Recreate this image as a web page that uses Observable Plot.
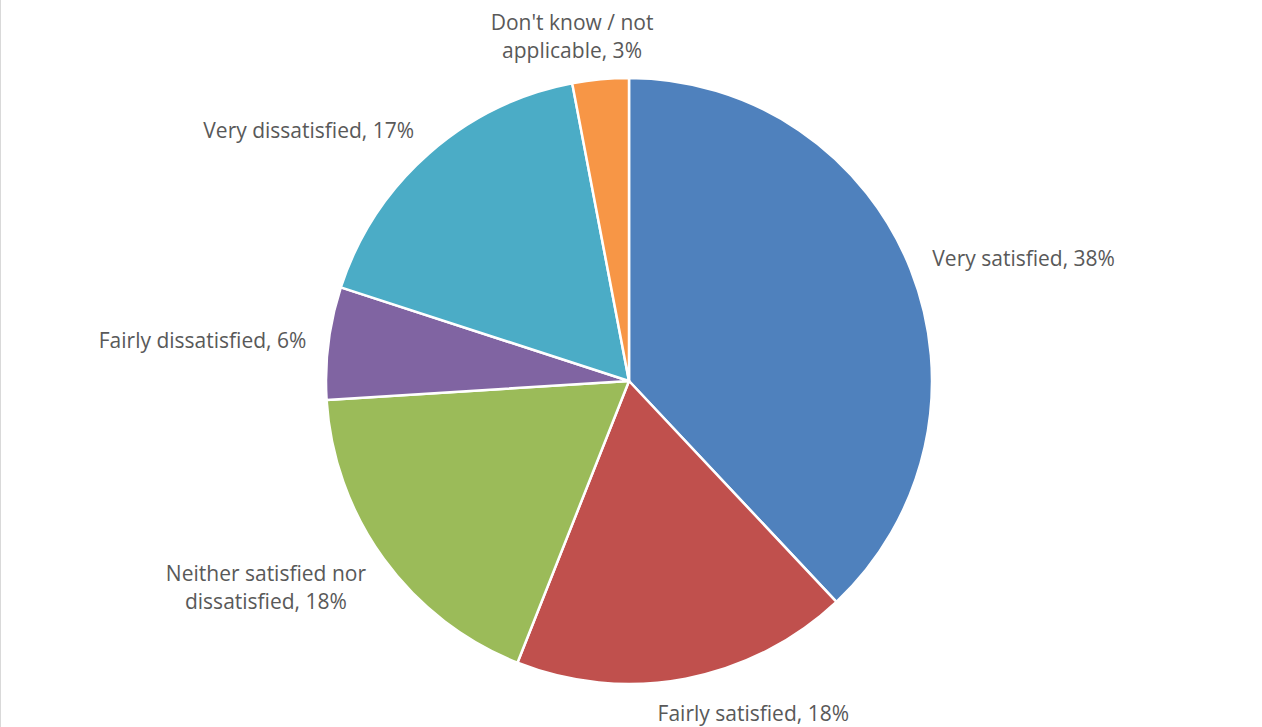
<!DOCTYPE html>
<html>
<head>
<meta charset="utf-8">
<script src="https://cdn.jsdelivr.net/npm/d3@7"></script>
<script src="https://cdn.jsdelivr.net/npm/@observablehq/plot@0.6"></script>
<style>
  html, body { margin: 0; padding: 0; background: #fff; }
  #wrap { position: relative; width: 1262px; height: 727px; }
  #edge { position: absolute; left: 0; top: 0; width: 1px; height: 727px; background: #d9d9d9; }
</style>
</head>
<body>
<div id="wrap"><div id="chart"></div><div id="edge"></div></div>
<script>
// Data (clockwise from 12 o'clock)
const categories = ["Very satisfied", "Fairly satisfied", "Neither satisfied nor dissatisfied", "Fairly dissatisfied", "Very dissatisfied", "Don't know / not applicable"];
const labelTexts = ["Very satisfied, 38%", "Fairly satisfied, 18%", "Neither satisfied nor\ndissatisfied, 18%", "Fairly dissatisfied, 6%", "Very dissatisfied, 17%", "Don't know / not\napplicable, 3%"];
const values = [38, 18, 18, 6, 17, 3];
const colors = ["#4F81BD", "#C0504D", "#9BBB59", "#8064A2", "#4BACC6", "#F79646"];

const W = 1262, H = 727;
const FONT_SIZE = 21;
const FONT = `${FONT_SIZE}px 'Open Sans'`;
const LINE_H = 28;

const total = d3.sum(values);
let acc = 0;
const slices = categories.map((c, i) => {
  const a0 = acc / total * 2 * Math.PI;
  acc += values[i];
  const a1 = acc / total * 2 * Math.PI;
  return {category: c, label: labelTexts[i], value: values[i], a0, a1, mid: (a0 + a1) / 2};
});

// measure label boxes so that labels sit just outside the pie edge
const ctx = document.createElement("canvas").getContext("2d");
ctx.font = FONT;
const R = 303, CX = 629, CY = 381;
const LR = 1.075;
const clamp = v => Math.max(-1, Math.min(1, v));
const labels = slices.map(s => {
  const sx = Math.sin(s.mid), cy = Math.cos(s.mid);
  const lines = s.label.split("\n");
  const w = d3.max(lines, l => ctx.measureText(l).width) / R; // in unit radius
  const h = lines.length * LINE_H / R;
  return {
    ...s,
    lx: LR * sx + clamp(3.5 * sx) * w / 2,
    ly: LR * cy + 0.8 * cy * h / 2
  };
});

const color = d3.scaleOrdinal(categories, colors);

// Pie mark rendered through Plot's x/y scales
function pieMark(index, scales, values, dimensions, context) {
  const cx = scales.x(0), cy = scales.y(0);
  const r = scales.x(1) - scales.x(0);
  const arc = d3.arc().innerRadius(0).outerRadius(r);
  const g = d3.create("svg:g").attr("transform", `translate(${cx},${cy})`);
  g.selectAll("path")
    .data(slices)
    .join("path")
    .attr("d", d => arc({startAngle: d.a0, endAngle: d.a1}))
    .attr("fill", d => color(d.category))
    .attr("stroke", "#fff")
    .attr("stroke-width", 2.5)
    .attr("stroke-linejoin", "round");
  return g.node();
}

const plot = Plot.plot({
  width: W,
  height: H,
  margin: 0,
  style: {background: "#fff", fontFamily: "'Open Sans', sans-serif"},
  x: {domain: [-CX / R, (W - CX) / R], range: [0, W], axis: null},
  y: {domain: [-(H - CY) / R, CY / R], range: [H, 0], axis: null},
  marks: [
    pieMark,
    Plot.text(labels, {
      x: "lx", y: "ly", text: "label",
      textAnchor: "middle", lineAnchor: "middle",
      fontSize: FONT_SIZE, fill: "#595959", lineHeight: LINE_H / FONT_SIZE
    })
  ]
});
document.getElementById("chart").appendChild(plot);
</script>
</body>
</html>
